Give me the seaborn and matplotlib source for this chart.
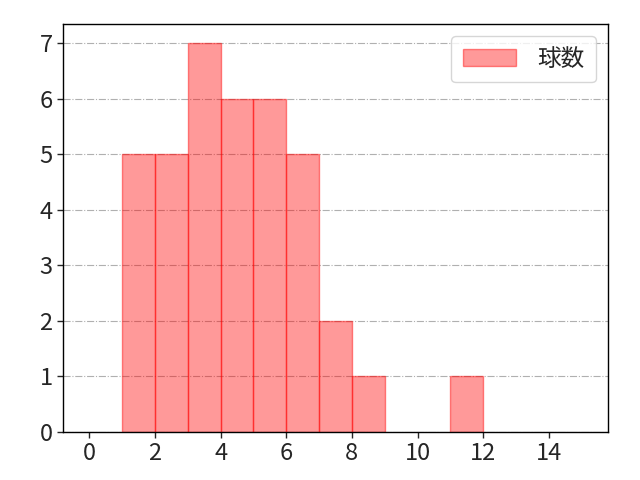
import matplotlib
matplotlib.use("Agg")
import matplotlib.pyplot as plt
import seaborn as sns
import numpy as np
import pandas as pd

bin_edges = list(range(1, 13))
bin_starts = [1, 2, 3, 4, 5, 6, 7, 8, 9, 10, 11]
counts = [5, 5, 7, 6, 6, 5, 2, 1, 0, 0, 1]
xticks = [0, 2, 4, 6, 8, 10, 12, 14]
label = "球数"

sns.set_style("white")
plt.rcParams['font.family'] = ['Noto Sans CJK JP', 'DejaVu Sans']

df = pd.DataFrame({"x": [s + 0.5 for s in bin_starts], "w": counts})

fig = plt.figure(figsize=(6.4, 4.8), dpi=100)
ax = fig.add_axes([63/640, 1-432/480, (608-63)/640, (432-24)/480])
sns.histplot(data=df, x="x", weights="w", bins=bin_edges, color="red",
             alpha=0.4, edgecolor=(1, 0, 0, 0.45), linewidth=1, label=label, ax=ax)
for p in ax.patches:
    if p.get_height() == 0:
        p.set_visible(False)
ax.set_xlim(-0.8, 15.8)
ax.set_ylim(0, 7.35)
ax.set_xticks(xticks)
ax.set_xlabel("")
ax.set_ylabel("")
ax.yaxis.grid(True, linestyle="-.", color="#b0b0b0", linewidth=0.8)
ax.tick_params(labelsize=17, length=4, width=1, left=True, bottom=True)
for s in ax.spines.values():
    s.set_color("black")
    s.set_linewidth(1)
ax.legend(fontsize=17, loc="upper right", borderpad=0.5, handlelength=2.25,
          handletextpad=0.9, borderaxespad=0.5)
fig.savefig("out.png", dpi=100)
